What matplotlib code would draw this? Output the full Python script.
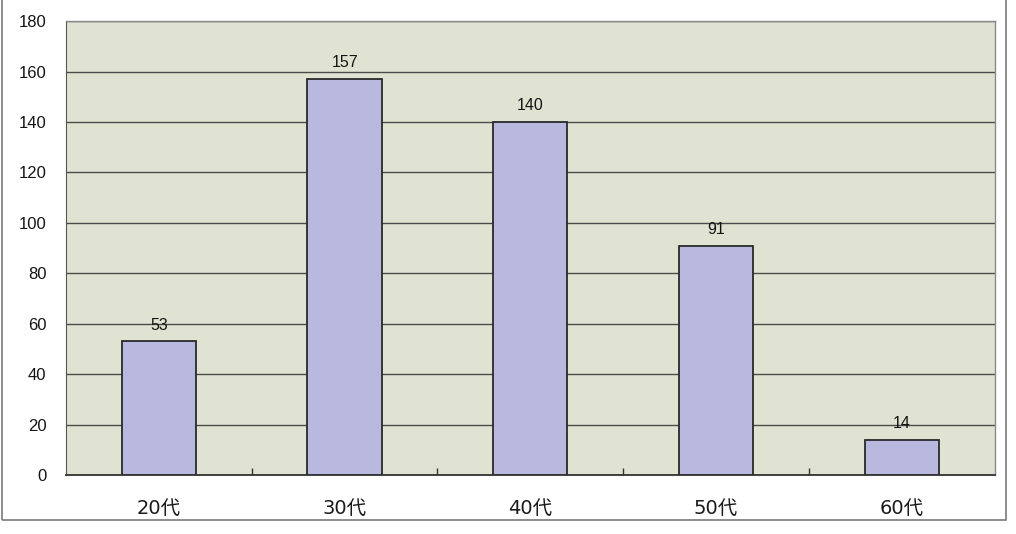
import matplotlib
matplotlib.use("Agg")
import matplotlib.pyplot as plt
from matplotlib.patches import Rectangle

plt.rcParams['font.family'] = ['Liberation Sans', 'Noto Sans CJK JP', 'DejaVu Sans']

categories = ["20代", "30代", "40代", "50代", "60代"]
counts = [53, 157, 140, 91, 14]
y_ticks = [0, 20, 40, 60, 80, 100, 120, 140, 160, 180]

fig = plt.figure(figsize=(10.16, 5.34), dpi=100)
fig.patch.set_facecolor("white")

# thin frame around the figure (left, right, bottom edges)
frame = Rectangle((0.002, 0.027), 0.988, 1.2, transform=fig.transFigure,
                  fill=False, edgecolor="#7a7a7a", linewidth=1.2)
fig.patches.append(frame)

ax = fig.add_axes([0.065, 0.1105, 0.914, 0.85])
ax.set_facecolor("#e1e3d2")

x = range(len(categories))
ax.bar(x, counts, width=0.4, color="#b9b9e0", edgecolor="#2a2a2a",
       linewidth=1.3, zorder=3)

for xi, v in zip(x, counts):
    ax.text(xi, v + 3.5, str(v), ha="center", va="bottom", fontsize=11.5,
            color="#151515", zorder=4)

ax.set_xlim(-0.5, len(categories) - 0.5)
ax.set_ylim(0, 180)
ax.set_yticks(y_ticks)
ax.set_yticklabels([str(t) for t in y_ticks], fontsize=12, color="#151515")
ax.yaxis.grid(True, color="#4a4a4a", linewidth=1.0, zorder=1)
ax.tick_params(axis="y", length=0, pad=14)

ax.set_xticks(list(x))
ax.set_xticklabels(categories, fontsize=14, color="#1a1a1a",
                   family=['DejaVu Sans', 'Noto Sans CJK JP'])
ax.tick_params(axis="x", length=0, pad=17)
# boundary tick marks between categories
ax.set_xticks([i + 0.5 for i in range(len(categories) - 1)], minor=True)
ax.tick_params(axis="x", which="minor", direction="in", length=5,
               color="#333333", width=1)

for side in ["top", "right"]:
    ax.spines[side].set_color("#8a8a8a")
    ax.spines[side].set_linewidth(1.0)
ax.spines["left"].set_color("#555555")
ax.spines["bottom"].set_color("#333333")
ax.spines["bottom"].set_linewidth(1.3)

fig.savefig("out.png", dpi=100, facecolor="white")
